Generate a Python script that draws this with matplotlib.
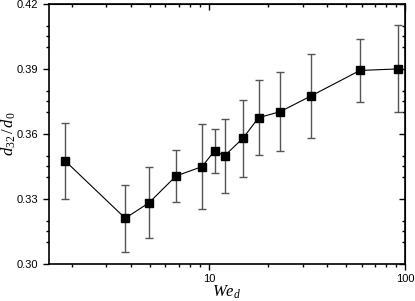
import numpy as np
import matplotlib.pyplot as plt
from matplotlib.ticker import FixedLocator, LogLocator, NullFormatter

plt.rcParams['mathtext.fontset'] = 'custom'
plt.rcParams['mathtext.it'] = 'Liberation Serif:italic'
plt.rcParams['mathtext.rm'] = 'Liberation Serif'

# Weber number and normalised Sauter mean diameter
we_d = [1.84, 3.74, 4.94, 6.79, 9.21, 10.7, 12.0, 14.9, 17.9, 23.1, 33.1, 58.9, 92.1]
d32_d0 = [0.3477, 0.3211, 0.3282, 0.3406, 0.3449, 0.3523, 0.3499, 0.3580, 0.3675,
          0.3703, 0.3775, 0.3893, 0.3900]
err_hi = [0.3652, 0.3366, 0.3446, 0.3526, 0.3648, 0.3623, 0.3669, 0.3757, 0.3848,
          0.3885, 0.3968, 0.4037, 0.4103]
err_lo = [0.3300, 0.3055, 0.3120, 0.3285, 0.3254, 0.3420, 0.3329, 0.3403, 0.3504,
          0.3523, 0.3582, 0.3749, 0.3700]

y_major = [0.30, 0.33, 0.36, 0.39, 0.42]
y_minor = [0.31, 0.315, 0.32, 0.34, 0.345, 0.35, 0.37, 0.375, 0.38, 0.40, 0.405, 0.41]

x = np.array(we_d)
y = np.array(d32_d0)
yerr = [y - np.array(err_lo), np.array(err_hi) - y]

fig = plt.figure(figsize=(4.15, 3.01), dpi=100)
ax = fig.add_axes([0.118, 0.123, 0.858, 0.864])

ax.errorbar(x, y, yerr=yerr, fmt='none', ecolor='#555555', elinewidth=1.0,
            capsize=3, capthick=1.0)
ax.plot(x, y, '-', color='black', lw=0.8, marker='s', ms=5.5, mfc='black', mec='black')

ax.set_xscale('log')
ax.set_xlim(1.527, 100)
ax.set_ylim(0.30, 0.42)
ax.set_xticks([10, 100])
ax.set_xticklabels(['10', '100'])
ax.xaxis.set_minor_locator(LogLocator(base=10, subs=np.arange(2, 10)))
ax.xaxis.set_minor_formatter(NullFormatter())
ax.set_yticks(y_major)
ax.set_yticklabels(['%.2f' % v for v in y_major])
ax.yaxis.set_minor_locator(FixedLocator(y_minor))

for s in ax.spines.values():
    s.set_linewidth(1.2)

ax.tick_params(which='both', direction='out', width=1.0, labelsize=8,
               top=False, right=False)
ax.tick_params(which='major', length=4)
ax.tick_params(which='minor', length=2.5)
for lab in ax.get_xticklabels() + ax.get_yticklabels():
    lab.set_family('Liberation Sans')

# mirrored ticks pointing inward on top and right
secx = ax.secondary_xaxis('top')
secx.set_xticks([10, 100])
secx.xaxis.set_minor_locator(LogLocator(base=10, subs=np.arange(2, 10)))
secx.xaxis.set_minor_formatter(NullFormatter())
secx.tick_params(which='both', direction='in', width=1.0, labeltop=False)
secx.tick_params(which='major', length=4)
secx.tick_params(which='minor', length=2.5)
secy = ax.secondary_yaxis('right')
secy.set_yticks(y_major)
secy.yaxis.set_minor_locator(FixedLocator(y_minor))
secy.tick_params(which='both', direction='in', width=1.0, labelright=False)
secy.tick_params(which='major', length=4)
secy.tick_params(which='minor', length=2.5)

ax.set_xlabel(r'$We_d$', fontsize=12)
ax.xaxis.set_label_coords(0.5, -0.075, transform=ax.transAxes)
ax.xaxis.label.set_va('top')
ax.set_ylabel(r'$d_{32}\,/\,d_0$', fontsize=12)
ax.yaxis.set_label_coords(-0.088, 0.5, transform=ax.transAxes)

fig.savefig('out.png', dpi=100)
